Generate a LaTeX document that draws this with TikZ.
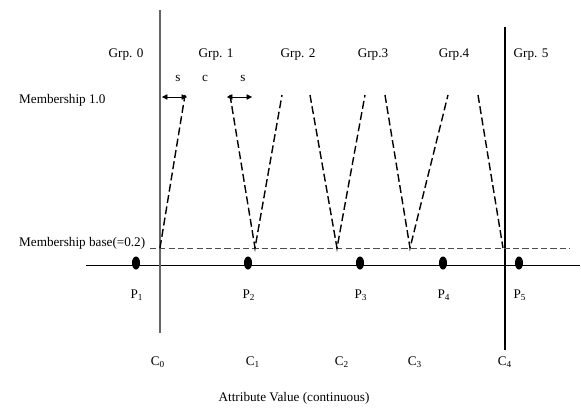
\documentclass[tikz,border=0pt]{standalone}
\usepackage{fontspec}
\setmainfont{Liberation Serif}
\usetikzlibrary{arrows.meta,positioning,shapes.geometric}

\begin{document}
\begin{tikzpicture}[x=0.02cm, y=-0.02cm, font=\fontsize{7.5}{9}\selectfont,
    leg/.style={line width=0.8pt, dash pattern=on 4.5pt off 2pt},
    baseline/.style={black!70, line width=0.5pt, dash pattern=on 3.5pt off 1.8pt},
    pt/.style={ellipse, fill=black, inner sep=0pt, minimum width=4.6pt, minimum height=7.4pt},
    gap/.style={{Triangle[length=3pt, width=3pt]}-{Triangle[length=3pt, width=3pt]}, line width=0.3pt}]

\useasboundingbox (0,0) rectangle (581,409);

%%% ---------- EJES ----------
\def\axisY{265}
\def\baseY{248}
\def\topY{95}

\coordinate (axisL) at (86,\axisY);
\coordinate (axisR) at (580,\axisY);
\draw[line width=0.5pt] (axisL) -- (axisR);

\coordinate (vlTop) at (160,10);
\coordinate (vlBot) at (160,333);
\draw[black!60, line width=0.6pt] (vlTop) -- (vlBot);
\coordinate (vrTop) at (505,27);
\coordinate (vrBot) at (505,350);
\draw[line width=0.9pt] (vrTop) -- (vrBot);

% Base de pertenencia
\coordinate (baseL) at (150,\baseY);
\coordinate (baseR) at (570,\baseY);
\draw[baseline] (baseL) -- (baseR);

%%% ---------- FUNCIONES DE PERTENENCIA ----------
\foreach \i/\x in {0/160,1/255,2/337,3/410,4/503}
    \coordinate (b\i) at (\x,\baseY);
\foreach \i/\x in {1/185,2/230,3/282,4/310,5/365,6/385,7/448,8/478}
    \coordinate (t\i) at (\x,\topY);

\draw[leg] (b0) -- (t1);
\draw[leg] (t2) -- (b1) -- (t3);
\draw[leg] (t4) -- (b2) -- (t5);
\draw[leg] (t6) -- (b3) -- (t7);
\draw[leg] (t8) -- (b4);

% Anchos s / c
\coordinate (s1L) at (162,97);
\coordinate (s1R) at (187,97);
\coordinate (s2L) at (227,97);
\coordinate (s2R) at (252,97);
\draw[gap] (s1L) -- (s1R);
\draw[gap] (s2L) -- (s2R);
\node (lbls1) at (178,78) {s};
\node (lblc) at (205,78) {c};
\node (lbls2) at (243,78) {s};

%%% ---------- TEXTOS ----------
\foreach \i/\x/\t in {0/126/Grp. 0,1/216/Grp. 1,2/298/Grp. 2,3/373/Grp.3,4/454/Grp.4,5/531/Grp. 5}
    \node (grp\i) at (\x,55) {\t};

\node[anchor=west] (memtop) at (13,100) {Membership 1.0};
\node[anchor=west] (membase) at (13,243) {Membership base(=0.2)};

% Puntos
\foreach \i/\x in {1/136,2/248,3/360,4/443,5/519} {
    \node[pt] (p\i) at (\x,263) {};
    \node (plbl\i) at (\x+1,295) {P\textsubscript{\i}};
}

% Cortes
\foreach \i/\x in {0/158,1/253,2/342,3/415,4/505}
    \node (c\i) at (\x,362) {C\textsubscript{\i}};

\node (xlabel) at (294,398) {Attribute Value (continuous)};

\end{tikzpicture}
\end{document}
